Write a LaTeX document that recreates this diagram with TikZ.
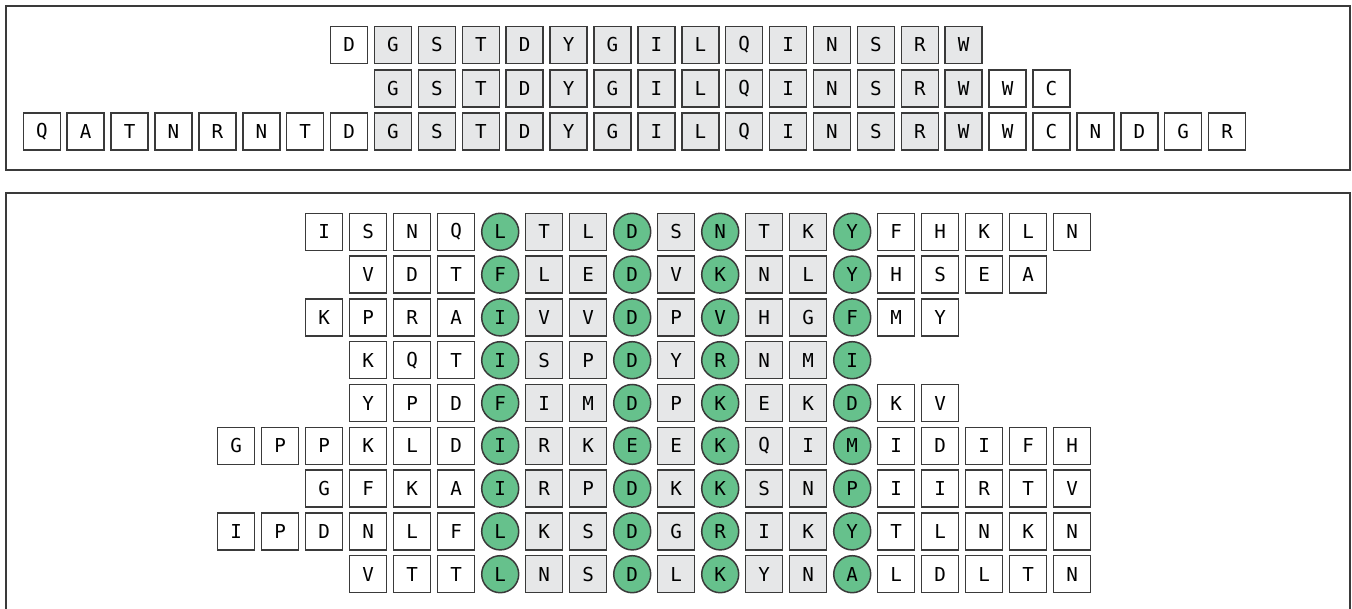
\documentclass[tikz,border=0pt]{standalone}
\usepackage{fontspec}
\setmonofont{DejaVu Sans Mono}
\usepackage{xcolor}
\definecolor{fgreen}{HTML}{66C18C}
\definecolor{fgray}{HTML}{E6E7E8}
\definecolor{fline}{HTML}{3A3A3A}
\tikzset{
  res/.style   = {draw=fline, line width=0.75pt, rectangle, minimum size=18.5pt,
                  inner sep=0pt, font=\ttfamily\fontsize{9.6}{11}\selectfont},
  cons/.style  = {res, fill=fgray},
  hot/.style   = {res, circle, fill=fgreen},
  panel/.style = {draw=fline, line width=1pt},
}

\begin{document}
\begin{tikzpicture}[x=0.5pt,y=-0.5pt]
\useasboundingbox (0,0) rectangle (1352,609);
% ---- top panel: aligned fragments ----
\draw[panel] (5.7,5.7) rectangle (1349.5,170);
\foreach \r/\s/\seq in {1/7/{D,G,S,T,D,Y,G,I,L,Q,I,N,S,R,W},
                        2/8/{G,S,T,D,Y,G,I,L,Q,I,N,S,R,W,W,C},
                        3/0/{Q,A,T,N,R,N,T,D,G,S,T,D,Y,G,I,L,Q,I,N,S,R,W,W,C,N,D,G,R}}
  \foreach \l [count=\c from \s] in \seq {
    \def\st{res}
    \ifnum\c>7 \ifnum\c<22 \def\st{cons}\fi\fi
    \node[\st] (t\r-\c) at ({41.8+43.9*\c},{45+43.3*(\r-1)}) {\l};
  };
% ---- bottom panel: motif alignment ----
\draw[panel] (5.7,615) -- (5.7,192.7) -- (1349.5,192.7) -- (1349.5,615);
\foreach \r/\s/\seq in {1/2/{I,S,N,Q,L,T,L,D,S,N,T,K,Y,F,H,K,L,N},
                        2/3/{V,D,T,F,L,E,D,V,K,N,L,Y,H,S,E,A},
                        3/2/{K,P,R,A,I,V,V,D,P,V,H,G,F,M,Y},
                        4/3/{K,Q,T,I,S,P,D,Y,R,N,M,I},
                        5/3/{Y,P,D,F,I,M,D,P,K,E,K,D,K,V},
                        6/0/{G,P,P,K,L,D,I,R,K,E,E,K,Q,I,M,I,D,I,F,H},
                        7/2/{G,F,K,A,I,R,P,D,K,K,S,N,P,I,I,R,T,V},
                        8/0/{I,P,D,N,L,F,L,K,S,D,G,R,I,K,Y,T,L,N,K,N},
                        9/3/{V,T,T,L,N,S,D,L,K,Y,N,A,L,D,L,T,N}}
  \foreach \l [count=\c from \s] in \seq {
    \def\st{res}
    \ifnum\c>6 \ifnum\c<14 \def\st{cons}\fi\fi
    \ifnum\c=6 \def\st{hot}\fi
    \ifnum\c=9 \def\st{hot}\fi
    \ifnum\c=11 \def\st{hot}\fi
    \ifnum\c=14 \def\st{hot}\fi
    \node[\st] (b\r-\c) at ({236.2+44*\c},{231.8+42.8*(\r-1)}) {\l};
  };
\end{tikzpicture}
\end{document}
